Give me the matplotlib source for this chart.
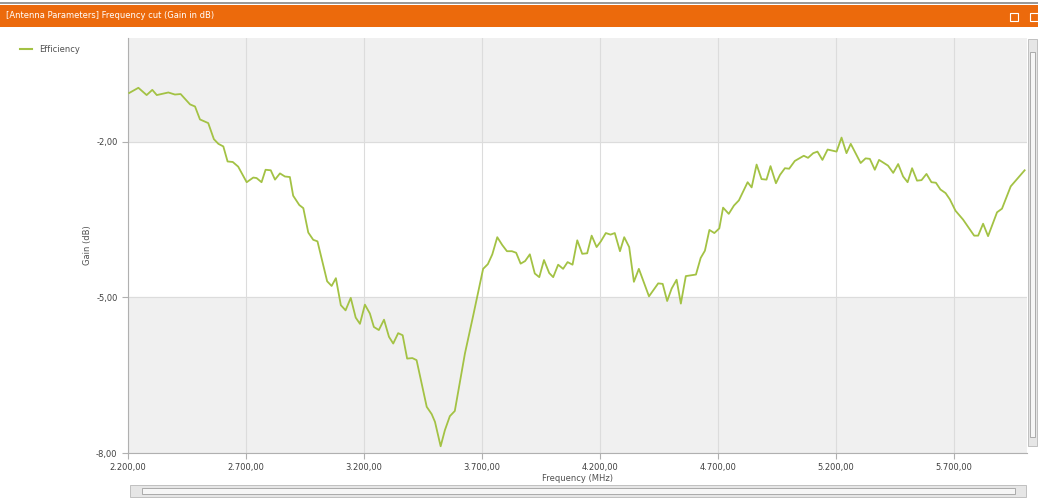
import numpy as np
import matplotlib
matplotlib.use("Agg")
import matplotlib.pyplot as plt
from matplotlib.patches import Rectangle
from matplotlib.ticker import FuncFormatter

# data (frequency in MHz, gain in dB)
freq = [2205, 2244, 2279, 2303, 2322, 2371, 2399, 2423, 2463, 2484,
        2505, 2540, 2564, 2583, 2604, 2622, 2644, 2667, 2703, 2731,
        2745, 2766, 2783, 2805, 2823, 2844, 2865, 2886, 2900, 2926,
        2943, 2964, 2985, 3003, 3044, 3063, 3081, 3102, 3122, 3144,
        3165, 3183, 3204, 3225, 3242, 3263, 3285, 3306, 3324, 3345,
        3364, 3383, 3405, 3423, 3466, 3487, 3501, 3525, 3543, 3564,
        3585, 3628, 3663, 3705, 3725, 3744, 3765, 3786, 3806, 3827,
        3845, 3864, 3883, 3903, 3924, 3943, 3963, 3985, 4002, 4023,
        4044, 4063, 4084, 4104, 4125, 4146, 4165, 4186, 4204, 4225,
        4245, 4263, 4285, 4303, 4324, 4344, 4365, 4408, 4447, 4466,
        4485, 4504, 4525, 4543, 4564, 4607, 4627, 4645, 4664, 4685,
        4706, 4722, 4746, 4768, 4789, 4826, 4843, 4864, 4885, 4906,
        4923, 4946, 4963, 4984, 5002, 5026, 5064, 5082, 5104, 5122,
        5143, 5165, 5203, 5224, 5245, 5263, 5305, 5326, 5344, 5365,
        5383, 5421, 5443, 5464, 5485, 5504, 5523, 5544, 5563, 5584,
        5605, 5624, 5643, 5665, 5683, 5707, 5739, 5786, 5803, 5824,
        5845, 5883, 5904, 5941, 6000]
gain = [-1.06, -0.96, -1.10, -1.00, -1.10, -1.05, -1.09, -1.08, -1.28, -1.32,
        -1.57, -1.64, -1.95, -2.04, -2.09, -2.38, -2.39, -2.48, -2.78, -2.69,
        -2.70, -2.78, -2.54, -2.55, -2.73, -2.61, -2.67, -2.68, -3.04, -3.22,
        -3.28, -3.75, -3.89, -3.92, -4.69, -4.78, -4.63, -5.15, -5.25, -5.01,
        -5.39, -5.51, -5.14, -5.31, -5.57, -5.63, -5.43, -5.76, -5.89, -5.69,
        -5.73, -6.18, -6.17, -6.21, -7.11, -7.25, -7.40, -7.87, -7.56, -7.29,
        -7.19, -6.08, -5.35, -4.45, -4.36, -4.17, -3.84, -3.99, -4.11, -4.11,
        -4.14, -4.35, -4.30, -4.17, -4.54, -4.61, -4.28, -4.53, -4.61, -4.37,
        -4.45, -4.32, -4.37, -3.90, -4.16, -4.15, -3.81, -4.03, -3.92, -3.76,
        -3.79, -3.76, -4.11, -3.84, -4.03, -4.70, -4.45, -4.98, -4.73, -4.74,
        -5.07, -4.83, -4.66, -5.12, -4.59, -4.56, -4.24, -4.10, -3.70, -3.76,
        -3.67, -3.27, -3.39, -3.23, -3.13, -2.78, -2.88, -2.44, -2.72, -2.73,
        -2.47, -2.80, -2.64, -2.51, -2.52, -2.37, -2.27, -2.31, -2.22, -2.19,
        -2.35, -2.15, -2.19, -1.92, -2.22, -2.04, -2.41, -2.32, -2.33, -2.54,
        -2.35, -2.46, -2.60, -2.43, -2.67, -2.78, -2.51, -2.75, -2.74, -2.62,
        -2.78, -2.79, -2.92, -2.99, -3.11, -3.33, -3.50, -3.81, -3.81, -3.58,
        -3.82, -3.36, -3.29, -2.86, -2.55]

x_ticks = [2200, 2700, 3200, 3700, 4200, 4700, 5200, 5700]
y_ticks = [-8, -5, -2]


def fmt_de(v, pos=None):
    # german style number: 2.200,00
    s = "{:,.2f}".format(v)
    return s.replace(",", "X").replace(".", ",").replace("X", ".")


W, H = 1038, 500
fig = plt.figure(figsize=(W / 100, H / 100), dpi=100)

# orange title bar
fig.patches.append(Rectangle((0, 1 - 27 / H), 1, 22 / H, transform=fig.transFigure,
                             facecolor="#ec6a0c", edgecolor="none"))
fig.patches.append(Rectangle((0, 1 - 4 / H), 1, 1.5 / H, transform=fig.transFigure,
                             facecolor="#9a9a9a", edgecolor="none"))
fig.text(6 / W, 1 - 16 / H, "[Antenna Parameters] Frequency cut (Gain in dB)",
         color="white", fontsize=6, va="center", ha="left")
# little window icons on the bar
fig.patches.append(Rectangle((1010 / W, 1 - 21 / H), 8 / W, 8 / H, transform=fig.transFigure,
                             facecolor="none", edgecolor="white", linewidth=0.8))
fig.patches.append(Rectangle((1030 / W, 1 - 21 / H), 8 / W, 8 / H, transform=fig.transFigure,
                             facecolor="none", edgecolor="white", linewidth=0.8))

ax = fig.add_axes([128 / W, 1 - 453 / H, 899 / W, 415 / H])

# alternating background bands
ax.axhspan(-2, 0, color="#f0f0f0", zorder=0)
ax.axhspan(-8, -5, color="#f0f0f0", zorder=0)

ax.plot(freq, gain, color="#a3c244", linewidth=1.3, zorder=3)

ax.set_xlim(2200, 6010)
ax.set_ylim(-8, 0)
ax.set_xticks(x_ticks)
ax.set_yticks(y_ticks)
ax.xaxis.set_major_formatter(FuncFormatter(fmt_de))
ax.yaxis.set_major_formatter(FuncFormatter(fmt_de))
ax.grid(True, color="#dcdcdc", linewidth=0.8, zorder=1)
ax.set_axisbelow(True)

for side in ["top", "right"]:
    ax.spines[side].set_visible(False)
for side in ["left", "bottom"]:
    ax.spines[side].set_color("#b0b0b0")
    ax.spines[side].set_linewidth(0.8)
ax.tick_params(axis="both", labelsize=6, colors="#b0b0b0", labelcolor="#404040",
               length=4, width=0.8)

ax.set_xlabel("Frequency (MHz)", fontsize=6, color="#505050", labelpad=1)
ax.set_ylabel("Gain (dB)", fontsize=6, color="#505050", labelpad=3)

# legend at top left
fig.lines.append(plt.Line2D([20 / W, 32 / W], [1 - 49 / H, 1 - 49 / H],
                            transform=fig.transFigure, color="#a3c244", linewidth=1.5))
fig.text(39 / W, 1 - 49 / H, "Efficiency", fontsize=6, color="#505050", va="center")

# vertical scrollbar on the right
fig.patches.append(Rectangle((1028 / W, 1 - 446 / H), 9 / W, 407 / H, transform=fig.transFigure,
                             facecolor="#e6e6e6", edgecolor="#b8b8b8", linewidth=0.6))
fig.patches.append(Rectangle((1030 / W, 1 - 437 / H), 5 / W, 385 / H, transform=fig.transFigure,
                             facecolor="#f6f6f6", edgecolor="#a0a0a0", linewidth=0.6))

# horizontal scrollbar at the bottom
fig.patches.append(Rectangle((130 / W, 1 - 497 / H), 896 / W, 12 / H, transform=fig.transFigure,
                             facecolor="#e6e6e6", edgecolor="#b8b8b8", linewidth=0.6))
fig.patches.append(Rectangle((142 / W, 1 - 494 / H), 873 / W, 6 / H, transform=fig.transFigure,
                             facecolor="#f6f6f6", edgecolor="#a0a0a0", linewidth=0.6))

fig.savefig("out.png", dpi=100)
